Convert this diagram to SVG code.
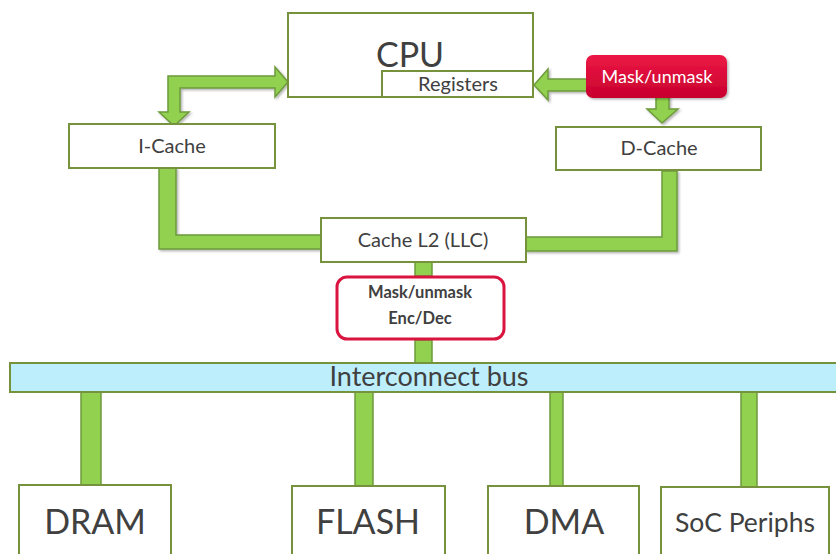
<svg xmlns="http://www.w3.org/2000/svg" width="836" height="554" viewBox="0 0 836 554">
<defs>
<linearGradient id="redg" x1="0" y1="0" x2="0" y2="1">
<stop offset="0" stop-color="#EC1845"/>
<stop offset="1" stop-color="#C8002E"/>
</linearGradient>
<filter id="sh" x="-10%" y="-10%" width="130%" height="140%">
<feDropShadow dx="1.5" dy="1.5" stdDeviation="1" flood-color="#000" flood-opacity="0.3"/>
</filter>
</defs>
<style>
.box{fill:#fff;stroke:#76923C;stroke-width:2}
.conn{fill:#92D050;stroke:#6E9A3C;stroke-width:1.5;stroke-linejoin:miter}
.t{font-family:Lato,"Open Sans",sans-serif;fill:#404040;text-anchor:middle}
</style>
<rect width="836" height="554" fill="#fff"/>
<g id="connectors">
<path class="conn" filter="url(#sh)" d="M288,82 L275,67 L275,76 L168,76 L168,112 L159,112 L174,126 L189,112 L180,112 L180,88 L275,88 L275,97 Z"/>
<path class="conn" filter="url(#sh)" d="M534,85 L548,69 L548,79 L588,79 L588,91 L548,91 L548,100 Z"/>
<path class="conn" filter="url(#sh)" d="M656,97 L669,97 L669,109 L678,109 L662,123 L647,109 L656,109 Z"/>
<path class="conn" filter="url(#sh)" d="M159,168 L176,168 L176,235 L321,235 L321,249 L159,249 Z"/>
<path class="conn" filter="url(#sh)" d="M662,171 L677,171 L677,251 L526,251 L526,237 L662,237 Z"/>
<rect class="conn" x="415" y="262" width="17" height="14"/>
<rect class="conn" x="415" y="340" width="17" height="23"/>
<rect class="conn" x="81" y="392" width="20" height="93"/>
<rect class="conn" x="355" y="392" width="18" height="94"/>
<rect class="conn" x="550" y="392" width="13" height="94"/>
<rect class="conn" x="741" y="392" width="16" height="95"/>
</g>
<g id="cpu">
<rect class="box" x="288" y="13" width="245" height="84"/>
<text class="t" x="410" y="67" font-size="34">CPU</text>
</g>
<g id="registers">
<rect class="box" x="382" y="71" width="151" height="26"/>
<text class="t" x="458" y="91" font-size="20">Registers</text>
</g>
<g id="mask-top">
<rect x="586" y="55" width="141" height="43" rx="7" fill="url(#redg)" filter="url(#sh)"/>
<text class="t" x="657" y="83" font-size="18" style="fill:#fff">Mask/unmask</text>
</g>
<g id="icache">
<rect class="box" x="69" y="124" width="206" height="44"/>
<text class="t" x="172" y="153" font-size="20">I-Cache</text>
</g>
<g id="dcache">
<rect class="box" x="556" y="127" width="205" height="43"/>
<text class="t" x="659" y="155" font-size="20">D-Cache</text>
</g>
<g id="cache-l2">
<rect class="box" x="321" y="218" width="205" height="44"/>
<text class="t" x="423" y="247" font-size="20">Cache L2 (LLC)</text>
</g>
<g id="mask-encdec">
<rect x="337" y="277" width="167" height="62" rx="10" fill="#fff" stroke="#D9143F" stroke-width="3"/>
<text class="t" x="420" y="298" font-size="16.5" font-weight="bold">Mask/unmask</text>
<text class="t" x="420" y="324" font-size="16.5" font-weight="bold">Enc/Dec</text>
</g>
<g id="bus">
<rect x="10" y="363" width="840" height="29" fill="#BDEEFB" stroke="#76923C" stroke-width="2"/>
<text class="t" x="429" y="386" font-size="27">Interconnect bus</text>
</g>
<g id="dram">
<rect class="box" x="19" y="485" width="152" height="80"/>
<text class="t" x="95" y="534" font-size="34">DRAM</text>
</g>
<g id="flash">
<rect class="box" x="292" y="486" width="153" height="80"/>
<text class="t" x="368" y="534" font-size="34">FLASH</text>
</g>
<g id="dma">
<rect class="box" x="488" y="486" width="151" height="80"/>
<text class="t" x="564" y="534" font-size="34">DMA</text>
</g>
<g id="soc">
<rect class="box" x="661" y="487" width="168" height="80"/>
<text class="t" x="745" y="532" font-size="26.5">SoC Periphs</text>
</g>
</svg>
